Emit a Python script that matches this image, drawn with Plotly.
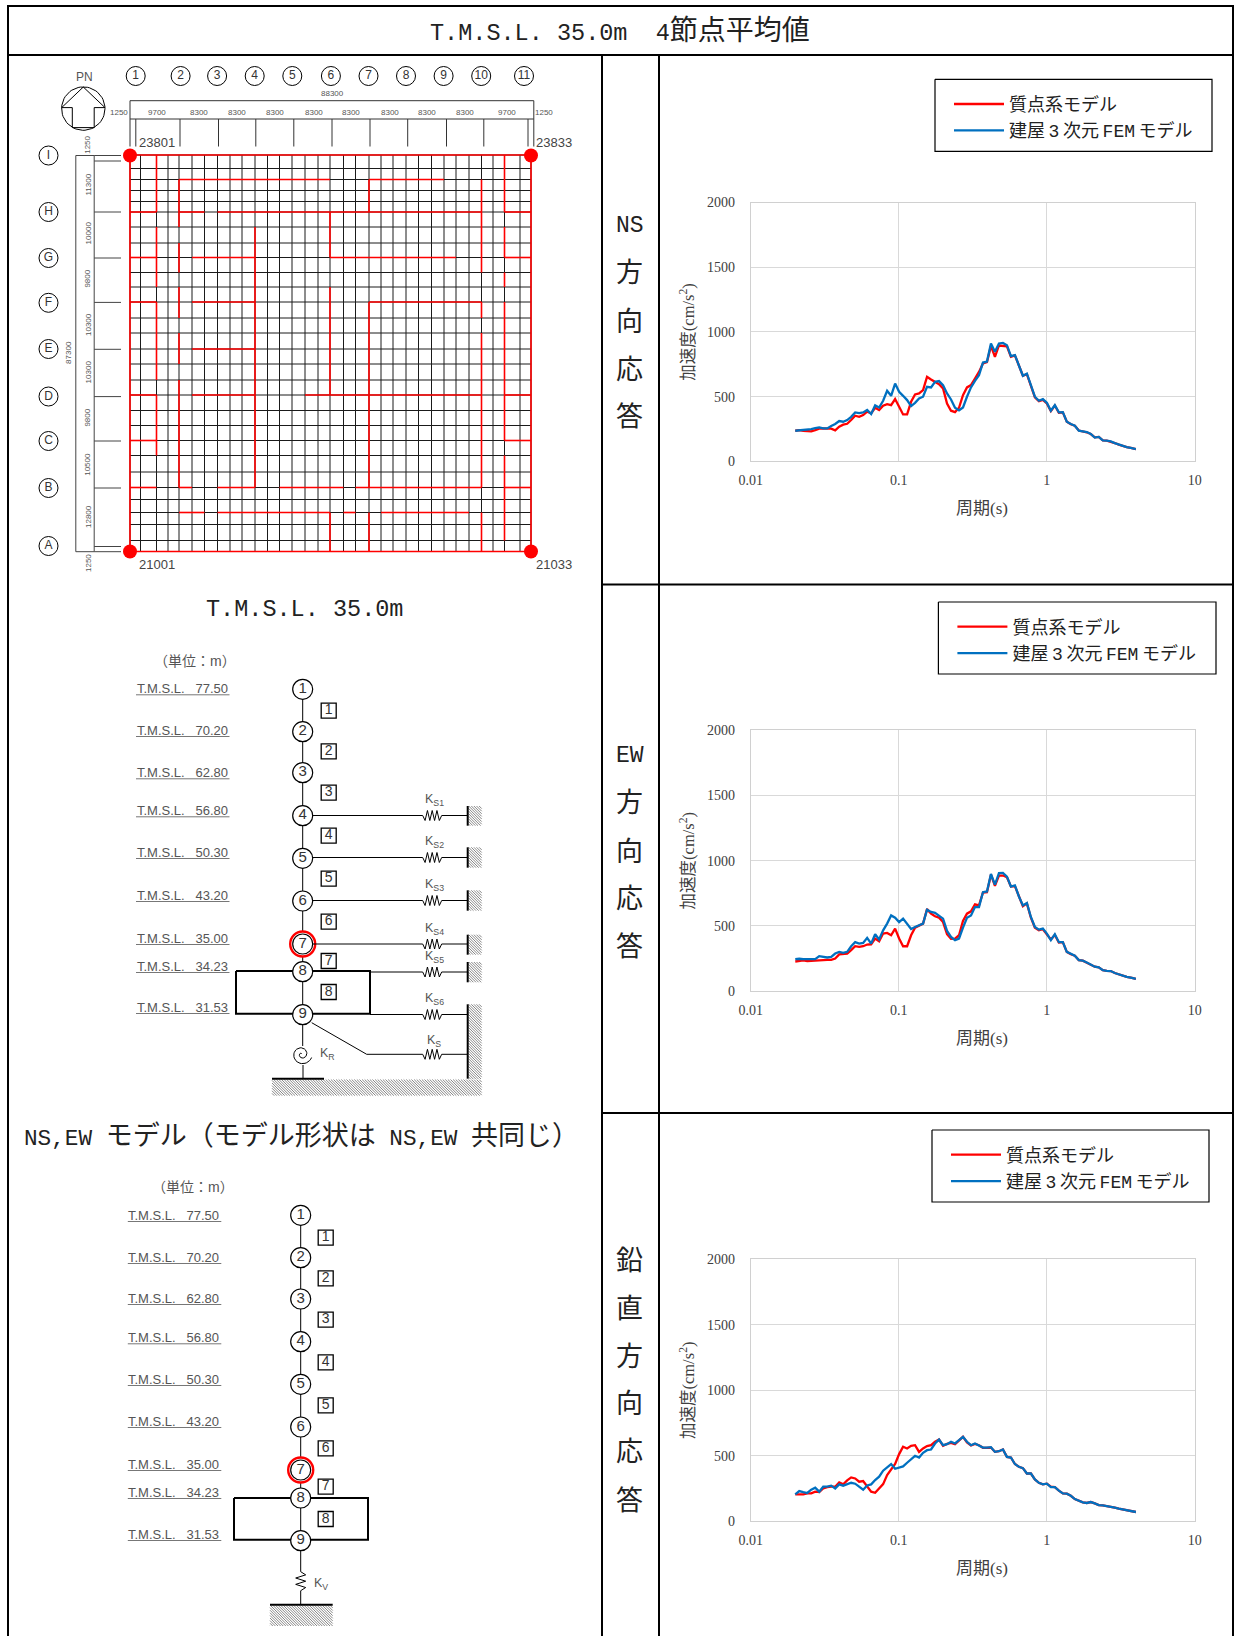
import numpy as np
import plotly.graph_objects as go

W, H = 1240, 1636

# ---------- spectrum data (period s, acceleration cm/s2) ----------
periods = [
 .02,.02128,.02265,.0241,.02564,.02728,.02903,.03089,.03287,.03498,
 .03722,.03961,.04215,.04485,.04772,.05078,.05404,.0575,.06119,.06511,
 .06928,.07372,.07845,.08348,.08883,.09452,.1006,.107,.1139,.1212,
 .1289,.1372,.146,.1553,.1653,.1759,.1872,.1992,.212,.2255,
 .24,.2554,.2717,.2891,.3077,.3274,.3484,.3707,.3945,.4197,
 .4466,.4753,.5057,.5381,.5726,.6093,.6484,.6899,.7341,.7812,
 .8313,.8845,.9412,1.0015,1.0657,1.134,1.207,1.284,1.366,1.454,
 1.547,1.646,1.752,1.864,1.983,2.11,2.246,2.39,2.543,2.706,
 2.879,3.064,3.26,3.469,3.692,3.928,4.0]

ns_mass = [
 236,241,236,236,232,241,252,254,252,252,
 239,267,283,290,319,352,344,357,383,370,
 414,396,429,442,434,481,422,362,362,460,
 517,524,550,653,632,614,596,563,447,391,
 380,414,511,571,589,640,691,756,766,892,
 807,895,892,889,807,818,740,661,673,581,
 494,465,475,447,388,431,375,378,306,286,
 275,238,231,224,211,185,188,162,159,152,
 141,129,118,110,103,98,95]
ns_fem = [
 236,239,241,241,249,257,262,254,254,272,
 288,311,306,319,344,378,373,378,396,365,
 432,416,468,545,506,601,537,506,473,427,
 452,486,499,576,571,614,620,589,524,478,
 414,393,416,499,571,622,666,763,771,910,
 846,910,915,897,812,820,735,661,678,581,
 499,468,481,452,391,434,378,380,306,288,
 275,236,231,226,211,183,188,162,159,154,
 141,129,118,110,103,98,95]
ew_mass = [
 228,233,236,231,233,236,241,243,241,240,
 251,282,284,289,315,345,340,345,358,360,
 404,383,442,447,429,480,404,345,345,429,
 487,505,518,629,594,574,563,530,437,401,
 404,429,538,594,612,665,657,756,759,893,
 807,886,886,873,802,805,726,652,673,563,
 487,467,475,432,396,431,373,376,302,284,
 272,239,234,219,206,188,183,162,157,155,
 140,129,118,111,104,98,95]
ew_fem = [
 246,249,246,246,251,246,269,264,259,264,
 289,302,294,302,345,376,365,370,409,365,
 437,396,467,518,581,563,530,556,513,477,
 492,505,518,624,607,601,581,556,462,416,
 391,404,487,563,581,645,645,759,764,898,
 817,904,906,878,802,810,726,657,675,569,
 492,472,480,442,391,437,376,376,302,284,
 272,239,234,221,206,188,183,162,157,155,
 140,129,118,111,104,98,95]
ud_mass = [
 206,206,206,213,213,226,223,251,261,264,
 264,297,282,312,335,327,302,307,264,226,
 218,251,284,353,396,437,513,569,556,576,
 581,530,556,574,581,607,624,576,591,599,
 589,619,645,602,579,591,581,561,563,563,
 530,535,548,492,487,437,416,406,365,365,
 320,294,282,287,264,261,234,213,211,195,
 170,157,145,140,147,137,124,122,117,112,
 104,96,90,86,80,74,71]
ud_fem = [
 206,231,223,216,241,256,226,264,264,272,
 251,282,272,284,294,287,264,241,274,282,
 315,340,386,411,437,401,411,419,447,472,
 500,487,523,543,548,594,624,581,589,607,
 594,619,645,607,581,594,581,563,563,566,
 530,535,548,492,487,437,416,406,365,365,
 320,294,282,287,261,261,234,213,211,195,
 170,157,145,140,147,137,124,122,117,112,
 104,96,90,86,80,74,71]

series_names = ["質点系モデル", "建屋\u20093\u2009次元\u2009FEM\u2009モデル"]
x_ticks = [0.01, 0.1, 1, 10]
x_tick_text = ["0.01", "0.1", "1", "10"]
y_ticks = [0, 500, 1000, 1500, 2000]
x_title = "周期(s)"
y_title = "加速度(cm/s<sup>2</sup>)"

# ---------- texts of the drawing ----------
elev_labels = ["77.50","70.20","62.80","56.80","50.30","43.20","35.00","34.23","31.53"]
top_dims = ["1250","9700","8300","8300","8300","8300","8300","8300","8300","8300","9700","1250"]
left_dims = ["1250","11300","10000","9800","10300","10300","9800","10500","12800","1250"]
axis_cols = ["1","2","3","4","5","6","7","8","9","10","11"]
axis_rows = ["I","H","G","F","E","D","C","B","A"]

SANS = "Liberation Sans, Arial, sans-serif"
MINCHO = "Liberation Mono, Noto Sans CJK JP"
SERIF = "Liberation Serif, Noto Sans CJK JP"
RED, BLUE = "#ff0000", "#0070c0"
INK = "#222222"
GREY = "#555555"

fig = go.Figure()
notes = []

def px_line(xs, ys, color="black", width=1):
    fig.add_trace(go.Scatter(x=xs, y=ys, mode="lines", xaxis="x", yaxis="y", showlegend=False,
                             hoverinfo="skip", line=dict(color=color, width=width)))

def multi(polys, color="black", width=1):
    xs, ys = [], []
    for p in polys:
        for a, b in p:
            xs.append(a); ys.append(b)
        xs.append(None); ys.append(None)
    px_line(xs, ys, color, width)

def note(x, y, text, size=12, family=SANS, color=INK, anchor="center", angle=0):
    notes.append(dict(x=x, y=y, xref="x", yref="y", text=text, showarrow=False, xanchor=anchor,
                      yanchor="middle", textangle=angle, font=dict(size=size, family=family, color=color)))

def hatch(x0, y0, x1, y1, step=2.6):
    segs = []
    c = y0 - x1
    while c < y1 - x0:
        # line y = x + c clipped to the box
        xa = max(x0, y0 - c); xb = min(x1, y1 - c)
        if xb > xa:
            segs.append([(xa, xa + c), (xb, xb + c)])
        c += step
    multi(segs, "#555555", 0.7)

def hspring(x0, x1, y, amp=5, n=4):
    pts = [(x0, y)]
    d = (x1 - x0) / (2 * n)
    for i in range(2 * n - 1):
        pts.append((x0 + d * (i + 1), y + (amp if i % 2 == 0 else -amp)))
    pts.append((x1, y))
    return pts

def vspring(x, y0, y1, amp=5, n=3):
    pts = [(x, y0)]
    d = (y1 - y0) / (2 * n)
    for i in range(2 * n - 1):
        pts.append((x + (amp if i % 2 == 0 else -amp), y0 + d * (i + 1)))
    pts.append((x, y1))
    return pts

# ---------- table frame ----------
FL, FR, FT = 8, 1233, 6
multi([[(FL, H), (FL, FT), (FR, FT), (FR, H)],
       [(FL, 55), (FR, 55)], [(602, 55), (602, H)], [(659, 55), (659, H)],
       [(602, 584.5), (FR, 584.5)], [(602, 1113), (FR, 1113)]], "black", 2)

def mixed(latin, size, ratio=0.84):
    return f'<span style="font-size:{size*ratio:.1f}px">{latin}</span>'

note(620, 31, mixed("T.M.S.L. 35.0m  4", 28) + "節点平均値", 28, MINCHO, "#222222")
note(304.5, 609.5, "T.M.S.L. 35.0m", 23.5, MINCHO, "#222222")
note(301, 1136.5, mixed("NS,EW ", 27) + "モデル（モデル形状は" + mixed(" NS,EW ", 27) + "共同じ）", 27, MINCHO, "#222222")

for ys, chars in [([226, 274, 322.5, 370.5, 418], ["NS", "方", "向", "応", "答"]),
                  ([756.4, 804.4, 852.6, 900.4, 948.4], ["EW", "方", "向", "応", "答"]),
                  ([1261.5, 1309.5, 1357.5, 1405.4, 1453.4, 1501.5], ["鉛", "直", "方", "向", "応", "答"])]:
    for y, c in zip(ys, chars):
        note(629.5, y, c, 23 if c in ("NS", "EW") else 27, MINCHO, "#222222")

# ---------- floor plan grid ----------
gx = [130,140.5,156.5,168,179,192,204.5,217.5,230,242,255,267.5,279.5,292,305,318,330,343.5,355.5,369,381,393,406,418.5,431.5,444,456,469,481.5,493,504.5,520,531]
gy = [155,168.5,179.5,190.5,201.5,212,227,243,257.5,272.5,287,302,318,333,349,364,380,395,410.5,425.5,440.5,455.5,472,487.5,499.5,512.5,524.5,540.5,551.5]
multi([[(x, gy[0]), (x, gy[-1])] for x in gx], "#1a1a1a", 1)
multi([[(gx[0], y), (gx[-1], y)] for y in gy], "#1a1a1a", 1)

red_h = [(0,0,32),(2,4,16),(2,19,25),(5,0,2),(5,4,6),(5,7,28),(5,30,32),(8,0,2),(8,5,10),(8,16,26),(8,30,32),
         (11,0,2),(11,5,10),(11,19,28),(14,5,10),(17,0,2),(17,5,10),(17,14,28),(17,30,32),(20,0,2),(20,30,32),
         (23,0,2),(23,4,5),(23,7,10),(23,12,17),(23,18,28),(23,30,32),(25,4,6),(25,7,16),(25,17,18),(25,20,27),(28,0,32)]
red_v = [(0,0,28),(32,0,28),(2,0,5),(2,6,10),(2,11,16),(2,17,21),(4,2,6),(4,7,9),(4,10,12),(4,13,15),(4,16,23),
         (10,6,23),(16,5,8),(16,10,17),(16,25,28),(19,2,5),(19,11,23),(19,25,28),(28,2,9),(28,11,12),(28,13,23),(28,25,28),
         (30,0,5),(30,6,8),(30,9,10),(30,11,20),(30,21,27)]
multi([[(gx[a], gy[r]), (gx[b], gy[r])] for r, a, b in red_h] +
      [[(gx[c], gy[a]), (gx[c], gy[b])] for c, a, b in red_v], RED, 1.6)

fig.add_trace(go.Scatter(x=[130, 531, 130, 531], y=[155.5, 155.5, 551.5, 551.5], mode="markers", xaxis="x", yaxis="y",
                         showlegend=False, hoverinfo="skip", marker=dict(color=RED, size=14, line=dict(width=0))))
for x, y, t in [(157, 142, "23801"), (554, 142, "23833"), (157, 564.5, "21001"), (554, 564.5, "21033")]:
    note(x, y, t, 13, SANS, "#444444")

# dimension lines
top_x = [130,135.8,180,218.5,255.8,293.8,332,370,407.7,446.5,483.8,528,533.8]
multi([[(130, 119), (130, 100.7), (533.8, 100.7), (533.8, 119)], [(130, 119), (533.8, 119)]], "#333333", 1)
multi([[(x, 119), (x, 146.5)] for x in top_x], "#333333", 1)
left_y = [155.5,161,212,258,302.4,349.3,396.6,441,488,546.5,551.7]
multi([[(75.8, 155.5), (94.2, 155.5), (94.2, 551.7), (75.8, 551.7), (75.8, 155.5)]], "#444444", 1)
multi([[(94.2, y), (121, y)] for y in left_y], "#444444", 1)

note(332.7, 93.8, "88300", 8, SANS, GREY)
for x, t in zip([119,157,199,237,275,313.5,351,389.6,427,465,507,544], top_dims):
    note(x, 112.8, t, 8, SANS, GREY)
for y, t in zip([144.8,184.5,233.4,278.6,325,372.4,417.6,464.8,517,563], left_dims):
    note(88, y, t, 8, SANS, GREY, angle=-90)
note(68.5, 352.4, "87300", 8, SANS, GREY, angle=-90)

# grid-axis balloons
col_x = [135.7,180.6,217.1,254.7,292.3,330.9,368.5,406,443.6,481.2,524]
row_y = [155.5,212,258,302.8,349,396.5,441,488,546]
def balloons(xs, ys, texts, size=19, fs=12, lw=1):
    fig.add_trace(go.Scatter(x=xs, y=ys, text=texts, mode="markers+text", textposition="middle center",
                             xaxis="x", yaxis="y", showlegend=False, hoverinfo="skip",
                             textfont=dict(size=fs, family=SANS, color="#333333"),
                             marker=dict(size=size, color="white", line=dict(color="black", width=lw))))
balloons(col_x, [76] * len(col_x), axis_cols)
balloons([48.5] * len(row_y), row_y, axis_rows)

# north arrow
th = np.linspace(0, 2 * np.pi, 60)
px_line(list(83.3 + 21.7 * np.cos(th)), list(108.6 + 21.7 * np.sin(th)), "black", 1)
multi([[(61.7, 107.6), (83.3, 87), (105, 107.6), (94.2, 107.6), (94.2, 127.6), (72.3, 127.6), (72.3, 107.6), (61.7, 107.6)]], "black", 1)
note(84, 77, "PN", 12, SANS, GREY)

# ---------- stick models ----------
def stick(node_x, node_y, sq_x, sq_y, label_right, label_y, unit_xy, box):
    multi([[(node_x, node_y[0]), (node_x, node_y[-1])]], "black", 1)
    multi([[(box[0], box[1]), (box[2], box[1]), (box[2], box[3]), (box[0], box[3]), (box[0], box[1])]], "black", 2)
    fig.add_trace(go.Scatter(x=[node_x], y=[node_y[6]], mode="markers", xaxis="x", yaxis="y", showlegend=False,
                             hoverinfo="skip", marker=dict(size=25, color="white", line=dict(color=RED, width=2.4))))
    balloons([node_x] * 9, node_y, [str(i + 1) for i in range(9)], size=20, fs=15, lw=1.2)
    fig.add_trace(go.Scatter(x=[sq_x] * 8, y=sq_y, text=[str(i + 1) for i in range(8)], mode="markers+text",
                             textposition="middle center", xaxis="x", yaxis="y", showlegend=False, hoverinfo="skip",
                             textfont=dict(size=14, family=SANS, color="#333333"),
                             marker=dict(size=15, symbol="square", color="white", line=dict(color="black", width=1.3))))
    for t, y in zip(elev_labels, label_y):
        note(label_right, y, "T.M.S.L.\u00a0\u00a0\u00a0" + t, 13, SANS, "#555555", anchor="right")
    multi([[(label_right - 93.5, y + 6.5), (label_right, y + 6.5)] for y in label_y], "#777777", 1)
    note(unit_xy[0], unit_xy[1], "（単位：m）", 14, "Liberation Sans, Noto Sans CJK JP", "#555555")

# NS, EW model
ny1 = [689.3,731.7,772.7,815.7,858.3,901,944,971.7,1014.7]
stick(302.7, ny1, 328.7, [710.7,751.3,792.7,835.7,878.7,921.7,961,992], 229.5,
      [688.3,730,772.3,810.3,852,895,938,966,1007], (195, 660.7), (236, 971, 370, 1013.7))
ks = [("S1", 815.5, 800, 806, 825.7), ("S2", 857.5, 842, 847.3, 867.7), ("S3", 900.5, 885, 890.3, 910.7),
      ("S4", 944, 929, 934.7, 954.7), ("S5", 972, 957, 962, 982.3), ("S6", 1014.5, 999, None, None)]
polys = []
for name, y, ty, w0, w1 in ks:
    start = 370 if name in ("S5", "S6") else 312
    polys.append([(start, y), (422.7, y)] + hspring(422.7, 441.7, y)[1:] + [(467.7, y)])
    note(434, ty, f"K<sub>{name}</sub>", 12.5, SANS, "#555555")
    if w0:
        hatch(468.3, w0, 481.7, w1)
        multi([[(467.7, w0), (467.7, w1)]], "black", 2)
polys.append([(311.7, 1022.7), (366.7, 1054.3), (422.7, 1054.3)] + hspring(422.7, 441.7, 1054.3)[1:] + [(467.7, 1054.3)])
multi(polys, "black", 1)
note(434, 1041, "K<sub>S</sub>", 12.5, SANS, "#555555")
hatch(468.3, 1004.3, 481.7, 1079)
hatch(272, 1079.5, 481.7, 1095.7)
multi([[(467.7, 1004.3), (467.7, 1078.7)], [(272, 1078.7), (324, 1078.7)]], "black", 2)
multi([[(302.7, 1024), (302.7, 1046)], [(303, 1065), (303, 1078)]], "black", 1)
sp_t = np.linspace(0, 3.4 * np.pi, 60)
px_line(list(301.7 + (0.8 + 0.9 * sp_t) * np.sin(sp_t + np.pi)), list(1054.3 + (0.8 + 0.9 * sp_t) * np.cos(sp_t + np.pi)), "black", 1)
note(327, 1054, "K<sub>R</sub>", 12.5, SANS, "#555555")

# vertical model
ny2 = [1215.3,1257.7,1299,1341.7,1384.3,1427,1470,1498,1540.7]
stick(300.7, ny2, 325.7, [1237.7,1278.3,1319.7,1362.3,1405.3,1448.3,1486.7,1519], 221.3,
      [1215,1257,1298,1337.3,1379,1421,1464,1492,1534], (193.3, 1186.7), (234, 1498, 368, 1539.7))
multi([[(300.7, 1550), (300.7, 1571.7)] + vspring(300.7, 1571.7, 1590.7)[1:] + [(300.7, 1605)]], "black", 1)
hatch(270, 1605.3, 332.7, 1626)
multi([[(270, 1604.7), (332.7, 1604.7)]], "black", 2)
note(321, 1584, "K<sub>V</sub>", 12.5, SANS, "#555555")

# ---------- spectra ----------
charts = [(ns_mass, ns_fem, 202.5, 461.3, 935, 79.3, 1212, 151.3),
          (ew_mass, ew_fem, 730, 991.3, 938.4, 602, 1216, 674),
          (ud_mass, ud_fem, 1259.3, 1521.3, 932, 1130, 1209, 1202)]
layout_axes = {}
legends = {}
for n, (mass, fem, top, bottom, lx0, ly0, lx1, ly1) in enumerate(charts):
    k = n + 2
    xa, ya = f"x{k}", f"y{k}"
    leg = "legend" if n == 0 else f"legend{n + 1}"
    fig.add_trace(go.Scatter(x=periods, y=mass, name=series_names[0], xaxis=xa, yaxis=ya, mode="lines", legend=leg,
                             legendgroup=f"{n}a", line=dict(color=RED, width=2.3)))
    fig.add_trace(go.Scatter(x=periods, y=fem, name=series_names[1], xaxis=xa, yaxis=ya, mode="lines", legend=leg,
                             legendgroup=f"{n}b", line=dict(color=BLUE, width=2.3)))
    axfont = dict(size=14, family=SERIF, color="#404040")
    layout_axes[f"xaxis{k}"] = dict(type="log", range=[-2, 1], domain=[750.7 / W, 1194.8 / W], anchor=ya,
        tickvals=x_ticks, ticktext=x_tick_text, tickfont=axfont, ticks="outside", ticklen=6, tickcolor="rgba(0,0,0,0)",
        showgrid=True, gridcolor="#d9d9d9", gridwidth=1, showline=True, mirror=True, linecolor="#d0d0d0", linewidth=1,
        zeroline=False, fixedrange=True)
    note(982, bottom + 47.5, x_title, 17, SERIF, "#404040")
    layout_axes[f"yaxis{k}"] = dict(range=[0, 2000], domain=[1 - bottom / H, 1 - top / H], anchor=xa,
        tickvals=y_ticks, tickfont=axfont, ticks="outside", ticklen=12, tickcolor="rgba(0,0,0,0)",
        showgrid=True, gridcolor="#d9d9d9", gridwidth=1, showline=True, mirror=True, linecolor="#d0d0d0", linewidth=1,
        zeroline=False, title=dict(text=y_title, font=dict(size=16.5, family=SERIF, color="#404040"), standoff=8), fixedrange=True)
    multi([[(lx0, ly0), (lx1, ly0), (lx1, ly1), (lx0, ly1), (lx0, ly0)]], "black", 1.2)
    legends[leg] = dict(x=(lx0 + 14) / W, y=1 - (ly0 + 6.5) / H, xanchor="left", yanchor="top", bgcolor="rgba(0,0,0,0)",
                        borderwidth=0, itemwidth=50, traceorder="grouped", tracegroupgap=0, itemclick=False, itemdoubleclick=False,
                        font=dict(size=18, family=MINCHO, color="#222222"))

fig.update_layout(
    width=W, height=H, autosize=False, margin=dict(l=0, r=0, t=0, b=0, autoexpand=False),
    paper_bgcolor="white", plot_bgcolor="rgba(0,0,0,0)", showlegend=True, annotations=notes,
    xaxis=dict(range=[0, W], domain=[0, 1], visible=False, fixedrange=True, anchor="y"),
    yaxis=dict(range=[H, 0], domain=[0, 1], visible=False, fixedrange=True, anchor="x"),
    **layout_axes, **legends)

fig.write_html("out.html", config={"displayModeBar": False},
               post_script="document.body.style.margin='0';document.documentElement.style.overflow='hidden';")
